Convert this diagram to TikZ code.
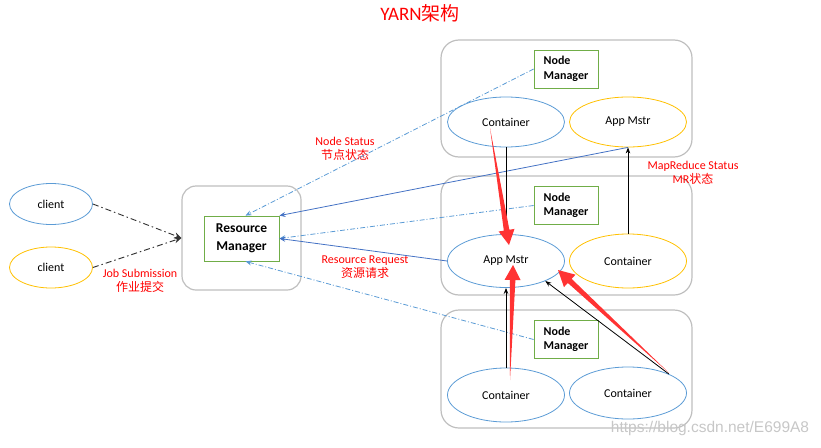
\documentclass[tikz,border=0pt]{standalone}
\usepackage{amsmath}
\usepackage{tikz}
\usepackage{xcolor}
\usepackage{fontspec}
\setmainfont{Carlito}
\newfontfamily\cjk{Noto Sans CJK SC}
\newfontfamily\wmfont{Liberation Sans}
\usetikzlibrary{arrows.meta,calc,shapes.geometric}
\definecolor{boxgray}{HTML}{BFBFBF}
\definecolor{ellblue}{HTML}{5B9BD5}
\definecolor{ellyellow}{HTML}{FFC000}
\definecolor{nmgreen}{HTML}{70AD47}
\definecolor{lineblue}{HTML}{4472C4}
\definecolor{labred}{HTML}{FF0000}
\definecolor{arrred}{HTML}{FF3333}

\begin{document}
\begin{tikzpicture}[x=1pt,y=-1pt]
\tikzstyle{every node}+=[inner sep=0pt, font=\fontsize{12}{14.4}\selectfont]
\tikzstyle{host}=[draw=boxgray, line width=1.2pt, rounded corners=18pt, minimum width=251pt]
\tikzstyle{nmbox}=[draw=nmgreen, line width=0.8pt, minimum width=64pt, minimum height=38pt, align=left, font=\fontsize{12}{14.4}\selectfont\bfseries]
\tikzstyle{proc}=[ellipse, draw=ellblue, line width=0.8pt, minimum width=117pt, minimum height=50pt]
\tikzstyle{redlab}=[text=labred, align=center]
\tikzstyle{jobline}=[draw=black!80, line width=0.9pt, dash pattern=on 6pt off 3pt on 1.5pt off 3pt, -{Stealth[length=7pt,width=6pt]}]
\tikzstyle{statusline}=[draw=ellblue, line width=0.8pt, dash pattern=on 5pt off 2pt on 1pt off 2pt, -{Stealth[length=6pt,width=5pt]}]
\tikzstyle{reqline}=[draw=lineblue, line width=0.8pt, -{Stealth[length=6pt,width=5pt]}]
\tikzstyle{blackarr}=[draw=black, line width=0.8pt, -{Stealth[length=6pt,width=4.5pt]}]
\useasboundingbox (0,0) rectangle (821,447);
\node (title) at (420,13.5) {\fontsize{19}{21}\selectfont\color{labred}YARN{\cjk 架构}};
\node[host, minimum height=117pt] (hostT) at (566.5,98.5) {};
\node[host, minimum height=119pt] (hostM) at (566.5,235.5) {};
\node[host, minimum height=118pt] (hostB) at (566.5,369) {};
\node[draw=boxgray, line width=1.2pt, rounded corners=14pt, minimum width=119pt, minimum height=104pt] (rmout) at (241.5,238) {};
\node[draw=nmgreen, line width=0.8pt, minimum width=75pt, minimum height=45pt, align=center, font=\fontsize{13.5}{17.5}\selectfont\bfseries] (rm) at (241.5,238.5) {Resource\\Manager};
\node[nmbox] (nmT) at (566,69) {Node\\Manager};
\node[nmbox] (nmM) at (566,205.5) {Node\\Manager};
\node[nmbox] (nmB) at (566,339.5) {Node\\Manager};
\node[proc] (conT) at (506,122) {Container};
\node[proc, draw=ellyellow] (amT) at (628,122) {App Mstr};
\node[proc, minimum height=53pt] (amM) at (506,261) {App Mstr};
\node[proc, draw=ellyellow, minimum height=54pt] (conM) at (628,261) {Container};
\node[proc, minimum height=54pt] (conBL) at (506,395) {Container};
\node[proc, minimum height=52pt] (conBR) at (628,393) {Container};
\node[ellipse, draw=ellblue, line width=0.8pt, minimum width=83pt, minimum height=41pt] (cl1) at (51,204) {client};
\node[ellipse, draw=ellyellow, line width=0.8pt, minimum width=83pt, minimum height=41pt] (cl2) at (51,267.5) {client};
\node[redlab] (joblab) at (140,281) {Job Submission\\{\cjk 作业提交}};
\node[redlab] (nslab) at (345,149) {Node Status\\{\cjk 节点状态}};
\node[redlab] (rqlab) at (365,267) {Resource Request\\{\cjk 资源请求}};
\node[redlab] (mrlab) at (693,173) {MapReduce Status\\MR{\cjk 状态}};
\draw[jobline] (cl1.east) -- (rmout.west);
\draw[jobline] (cl2.east) -- (rmout.west);
\draw[statusline] (nmT.west) -- ([xshift=4pt]rm.north);
\draw[reqline] (amT.south) -- (rm.north east);
\draw[statusline] (nmM.west) -- (rm.east);
\draw[reqline] (amM.west) -- (rm.east);
\draw[statusline] (nmB.west) -- ([xshift=4pt]rm.south);
\draw[black, line width=0.8pt] (conT.south) -- (amM.north);
\draw[blackarr] (conM.north) -- (amT.south);
\draw[blackarr] (conBL.north) -- (amM.south);
\draw[blackarr] (conBR.25) -- (amM.-27);
\coordinate (r1a) at ([shift={(-16,6)}]conT.center);
\coordinate (r1b) at ([shift={(3,-16)}]amM.center);
\coordinate (r1h) at ($(r1b)!15pt!(r1a)$);
\fill[arrred] (r1a) -- ($(r1h)!2.8pt!90:(r1b)$) -- ($(r1h)!8pt!90:(r1b)$) -- (r1b) -- ($(r1h)!8pt!-90:(r1b)$) -- ($(r1h)!2.8pt!-90:(r1b)$) -- cycle;
\coordinate (r2a) at ([shift={(4,-15)}]conBL.center);
\coordinate (r2b) at ([shift={(7,4)}]amM.center);
\coordinate (r2h) at ($(r2b)!15pt!(r2a)$);
\fill[arrred] (r2a) -- ($(r2h)!2.8pt!90:(r2b)$) -- ($(r2h)!8pt!90:(r2b)$) -- (r2b) -- ($(r2h)!8pt!-90:(r2b)$) -- ($(r2h)!2.8pt!-90:(r2b)$) -- cycle;
\coordinate (r3a) at ([shift={(41,-20)}]conBR.center);
\coordinate (r3b) at ([shift={(52,9)}]amM.center);
\coordinate (r3h) at ($(r3b)!16pt!(r3a)$);
\fill[arrred] (r3a) -- ($(r3h)!2.8pt!90:(r3b)$) -- ($(r3h)!8.5pt!90:(r3b)$) -- (r3b) -- ($(r3h)!8.5pt!-90:(r3b)$) -- ($(r3h)!2.8pt!-90:(r3b)$) -- cycle;
\node[text=black!22, font=\wmfont\fontsize{15.5}{18}\selectfont] (wmark) at (710,428) {https://blog.csdn.net/E699A8};
\end{tikzpicture}
\end{document}
